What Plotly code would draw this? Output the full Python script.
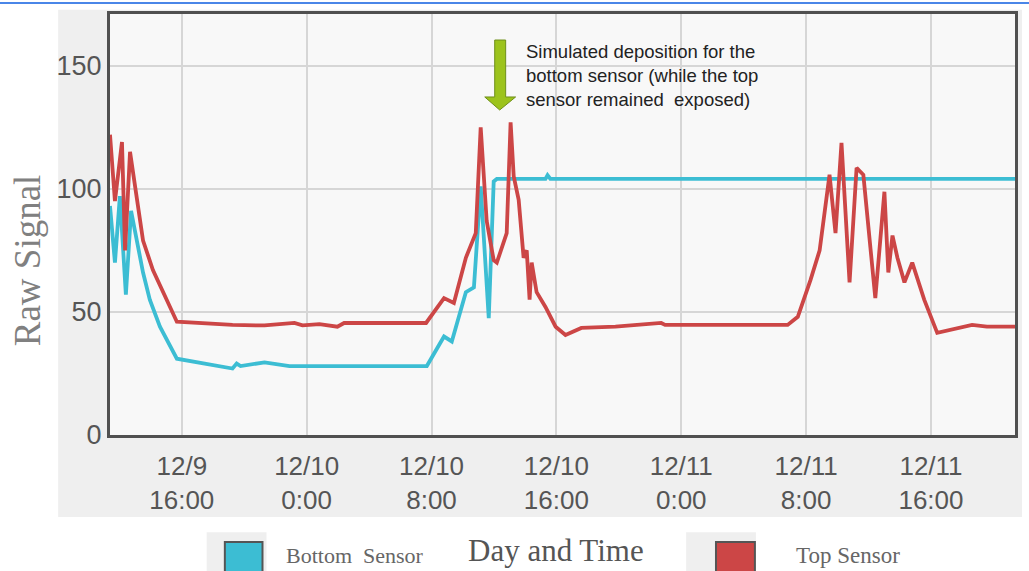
import plotly.graph_objects as go

# Sensor readings (timestamps and raw signal)
bottom_time = [
    "2013-12-09 11:24", "2013-12-09 11:43", "2013-12-09 12:02", "2013-12-09 12:25",
    "2013-12-09 12:45", "2013-12-09 13:08", "2013-12-09 13:31", "2013-12-09 13:57",
    "2013-12-09 14:36", "2013-12-09 15:41", "2013-12-09 19:15", "2013-12-09 19:31",
    "2013-12-09 19:46", "2013-12-09 21:18", "2013-12-09 22:54", "2013-12-10 07:42",
    "2013-12-10 08:48", "2013-12-10 09:18", "2013-12-10 10:12", "2013-12-10 10:43",
    "2013-12-10 11:09", "2013-12-10 11:40", "2013-12-10 11:59", "2013-12-10 12:11",
    "2013-12-10 15:18", "2013-12-10 15:26", "2013-12-10 15:37", "2013-12-11 21:23",
]
bottom_signal = [
    93, 70, 97, 57, 91, 79, 66, 55, 44, 31, 27, 29, 28, 29.5, 28, 28,
    40, 38, 58, 60, 101, 47.5, 103, 104, 104, 105.5, 104, 104,
]

top_time = [
    "2013-12-09 11:24", "2013-12-09 11:43", "2013-12-09 12:10", "2013-12-09 12:22",
    "2013-12-09 12:41", "2013-12-09 13:08", "2013-12-09 13:31", "2013-12-09 14:09",
    "2013-12-09 15:03", "2013-12-09 15:41", "2013-12-09 19:15", "2013-12-09 21:18",
    "2013-12-09 23:13", "2013-12-09 23:44", "2013-12-10 00:49", "2013-12-10 01:58",
    "2013-12-10 02:24", "2013-12-10 07:39", "2013-12-10 08:48", "2013-12-10 09:26",
    "2013-12-10 10:12", "2013-12-10 10:50", "2013-12-10 11:09", "2013-12-10 11:32",
    "2013-12-10 11:59", "2013-12-10 12:11", "2013-12-10 12:49", "2013-12-10 13:04",
    "2013-12-10 13:16", "2013-12-10 13:35", "2013-12-10 13:54", "2013-12-10 14:06",
    "2013-12-10 14:17", "2013-12-10 14:25", "2013-12-10 14:44", "2013-12-10 15:18",
    "2013-12-10 15:57", "2013-12-10 16:35", "2013-12-10 17:36", "2013-12-10 19:47",
    "2013-12-10 22:43", "2013-12-10 22:58", "2013-12-11 06:49", "2013-12-11 07:28",
    "2013-12-11 08:17", "2013-12-11 08:52", "2013-12-11 09:30", "2013-12-11 09:53",
    "2013-12-11 10:16", "2013-12-11 10:47", "2013-12-11 11:14", "2013-12-11 11:40",
    "2013-12-11 12:26", "2013-12-11 13:01", "2013-12-11 13:16", "2013-12-11 13:32",
    "2013-12-11 13:51", "2013-12-11 14:18", "2013-12-11 14:48", "2013-12-11 15:34",
    "2013-12-11 16:24", "2013-12-11 18:07", "2013-12-11 18:38", "2013-12-11 19:35",
    "2013-12-11 21:23",
]
top_signal = [
    122, 95, 119, 75, 115, 95, 79, 67, 55, 46, 44.7, 44.5,
    45.5, 44.5, 45, 44, 45.5, 45.5, 55.6, 53.6, 72, 82, 125, 87,
    71, 70, 82, 127, 105, 95.5, 72, 75, 55, 70, 58, 52,
    44, 40.6, 43.5, 44, 45.5, 44.7, 44.7, 48, 63, 75, 105.7, 82,
    118.7, 62, 108.5, 105.7, 55.6, 98.8, 66, 81, 72, 62, 70, 55,
    41.5, 44, 44.7, 44, 44,
]

tick_times = [
    "2013-12-09 16:00", "2013-12-10 00:00", "2013-12-10 08:00", "2013-12-10 16:00",
    "2013-12-11 00:00", "2013-12-11 08:00", "2013-12-11 16:00",
]
tick_labels = [
    "12/9<br>16:00", "12/10<br>0:00", "12/10<br>8:00", "12/10<br>16:00",
    "12/11<br>0:00", "12/11<br>8:00", "12/11<br>16:00",
]
y_ticks = [0, 50, 100, 150]

CYAN = "#3cbdd3"
RED = "#cc4646"
SERIF = "Liberation Serif, Times New Roman, serif"
SANS = "Liberation Sans, Arial, sans-serif"

fig = go.Figure()
fig.add_trace(go.Scatter(x=bottom_time, y=bottom_signal, mode="lines",
                         line=dict(color=CYAN, width=3.8), name="Bottom Sensor"))
fig.add_trace(go.Scatter(x=top_time, y=top_signal, mode="lines",
                         line=dict(color=RED, width=3.8), name="Top Sensor"))

shapes = [
    # outer panel and plotting surface
    dict(type="rect", xref="paper", yref="paper", x0=-0.0573, x1=1.0077, y0=-0.195, y1=1.01,
         fillcolor="#efefef", line=dict(width=0), layer="below"),
    dict(type="rect", xref="paper", yref="paper", x0=0, x1=1, y0=0, y1=1,
         fillcolor="#f8f8f8", line=dict(width=0), layer="below"),
    # top rule
    dict(type="line", xref="paper", yref="paper", x0=-0.125, x1=1.02, y0=1.026, y1=1.026,
         line=dict(color="#4a86e8", width=2)),
    # legend item backgrounds
    dict(type="rect", xref="paper", yref="paper", x0=0.1068, x1=0.1729, y0=-0.34, y1=-0.2312,
         fillcolor="#efefef", line=dict(width=0)),
    dict(type="rect", xref="paper", yref="paper", x0=0.6366, x1=0.7137, y0=-0.34, y1=-0.2312,
         fillcolor="#efefef", line=dict(width=0)),
    # legend swatches
    dict(type="rect", xref="paper", yref="paper", x0=0.1269, x1=0.1685, y0=-0.34, y1=-0.2542,
         fillcolor=CYAN, line=dict(color="#555555", width=2)),
    dict(type="rect", xref="paper", yref="paper", x0=0.6696, x1=0.7126, y0=-0.34, y1=-0.2542,
         fillcolor=RED, line=dict(color="#555555", width=2)),
    # green down arrow marking the deposition event
    dict(type="path", xref="paper", yref="paper",
         path="M 0.4251,0.9382 L 0.4372,0.9382 L 0.4372,0.8029 L 0.4482,0.8029 "
              "L 0.4306,0.772 L 0.4141,0.8029 L 0.4251,0.8029 Z",
         fillcolor="#9cc31c", line=dict(color="#6f8f1a", width=1)),
]

annotations = [
    dict(text="Simulated deposition for the<br>bottom sensor (while the top<br>sensor remained  exposed)",
         xref="paper", yref="paper", x=0.457, y=0.94, xanchor="left", yanchor="top",
         align="left", showarrow=False, font=dict(family=SANS, size=18.5, color="#222222")),
    dict(text="Raw Signal", xref="paper", yref="paper", x=-0.0903, y=0.4157, textangle=-90,
         xanchor="center", yanchor="middle",
         showarrow=False, font=dict(family=SERIF, size=37, color="#808080")),
    dict(text="Day and Time", xref="paper", yref="paper", x=0.4923, y=-0.2755,
         xanchor="center", yanchor="middle",
         showarrow=False, font=dict(family=SERIF, size=31, color="#555555")),
    dict(text="Bottom  Sensor", xref="paper", yref="paper", x=0.2709, y=-0.287,
         xanchor="center", yanchor="middle",
         showarrow=False, font=dict(family=SERIF, size=22, color="#666666")),
    dict(text="Top Sensor", xref="paper", yref="paper", x=0.815, y=-0.287,
         xanchor="center", yanchor="middle",
         showarrow=False, font=dict(family=SERIF, size=23, color="#666666")),
]

fig.update_layout(
    width=1029, height=571,
    margin=dict(l=110, r=11, t=14, b=136),
    paper_bgcolor="white",
    plot_bgcolor="rgba(0,0,0,0)",
    showlegend=False,
    shapes=shapes,
    annotations=annotations,
    xaxis=dict(
        range=["2013-12-09 11:24", "2013-12-11 21:23"],
        tickvals=tick_times, ticktext=tick_labels,
        tickfont=dict(family=SANS, size=26, color="#555555"),
        ticklabelstandoff=6,
        showgrid=True, gridcolor="#d6d6d6", gridwidth=1.5,
        showline=True, linecolor="#505050", linewidth=3, mirror=True,
        zeroline=False, ticks="",
    ),
    yaxis=dict(
        range=[0, 171], tickvals=y_ticks,
        tickfont=dict(family=SANS, size=27, color="#555555"),
        showgrid=True, gridcolor="#d6d6d6", gridwidth=1.5,
        showline=True, linecolor="#505050", linewidth=3, mirror=True,
        zeroline=False, ticks="",
    ),
)

fig.write_html("out.html")
